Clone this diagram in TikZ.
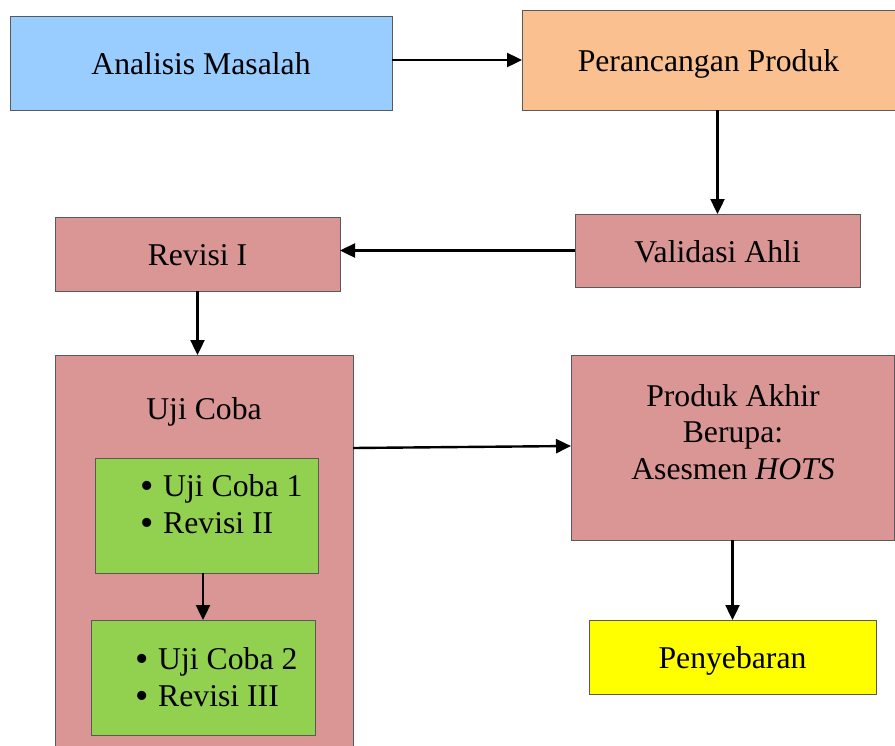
\documentclass[tikz,border=0pt]{standalone}
\usepackage{fontspec}
\setmainfont{Liberation Serif}
\usetikzlibrary{arrows.meta, positioning, calc}

\definecolor{biru}{HTML}{99CCFF}
\definecolor{oranye}{HTML}{FAC090}
\definecolor{merah}{HTML}{D99694}
\definecolor{hijau}{HTML}{92D050}
\definecolor{kuning}{HTML}{FFFF00}

\newcommand{\butir}{\raisebox{-0.06em}{\scalebox{1.2}{\textbullet}}\hspace{0.3em}}

\begin{document}
\begin{tikzpicture}[x=0.5pt, y=-0.5pt,
        font=\fontsize{15.85pt}{18.25pt}\selectfont,
        kotak/.style={draw=black!65, line width=0.5pt, inner sep=0pt, outer sep=0pt, text height=12pt, text depth=0.5pt},
        teks/.style={inner sep=0pt},
        panah/.style={-{Triangle[length=7.5pt,width=7pt]}, line width=1.2pt}]
        \useasboundingbox (0,0) rectangle (895,745);

        \node[kotak, fill=biru, minimum width=191pt, minimum height=47pt] (ana) at (201,63) {Analisis Masalah};
        \node[kotak, fill=oranye, minimum width=186.5pt, minimum height=50pt] (per) at (708.5,60) {Perancangan Produk};
        \node[kotak, fill=merah, minimum width=142.5pt, minimum height=36.5pt] (val) at (717.5,250.5) {Validasi Ahli};
        \node[kotak, fill=merah, minimum width=142.5pt, minimum height=37pt] (rev) at (197.5,254) {Revisi I};
        \node[kotak, fill=merah, minimum width=149pt, minimum height=205pt] (uji) at (204,560) {};
        \node[teks] (ujit) at (204,412) {Uji Coba};
        \node[kotak, fill=hijau, minimum width=111.5pt, minimum height=57.5pt] (uji1) at (206.5,515.5) {};
        \node[teks, anchor=west, align=left] (uji1t) at (140,505) {\butir Uji Coba 1\\\butir Revisi II};
        \node[kotak, fill=hijau, minimum width=112pt, minimum height=57.5pt] (uji2) at (203,677.5) {};
        \node[teks, anchor=west, align=left] (uji2t) at (135,678) {\butir Uji Coba 2\\\butir Revisi III};
        \node[kotak, fill=merah, minimum width=161.5pt, minimum height=92.5pt] (akhir) at (732.5,447.5) {};
        \node[teks, align=center] (akhirt) at (733,432) {Produk Akhir\\Berupa:\\Asesmen \textit{HOTS}};
        \node[kotak, fill=kuning, minimum width=143.5pt, minimum height=37pt] (sebar) at (732.5,657) {Penyebaran};

        \path[panah] (ana.east |- per.west) edge (per.west);
        \path[panah] (val.north |- per.south) edge (val.north);
        \path[panah] (val.west) edge (val.west -| rev.east);
        \path[panah] (rev.south) edge (rev.south |- uji.north);
        \path[panah] ([yshift=-46.5pt]uji.north east) edge ([yshift=-45.5pt]akhir.north west);
        \path[panah] (uji1.south -| uji2.north) edge (uji2.north);
        \path[panah] (akhir.south) edge (sebar.north);

    \end{tikzpicture}
\end{document}
